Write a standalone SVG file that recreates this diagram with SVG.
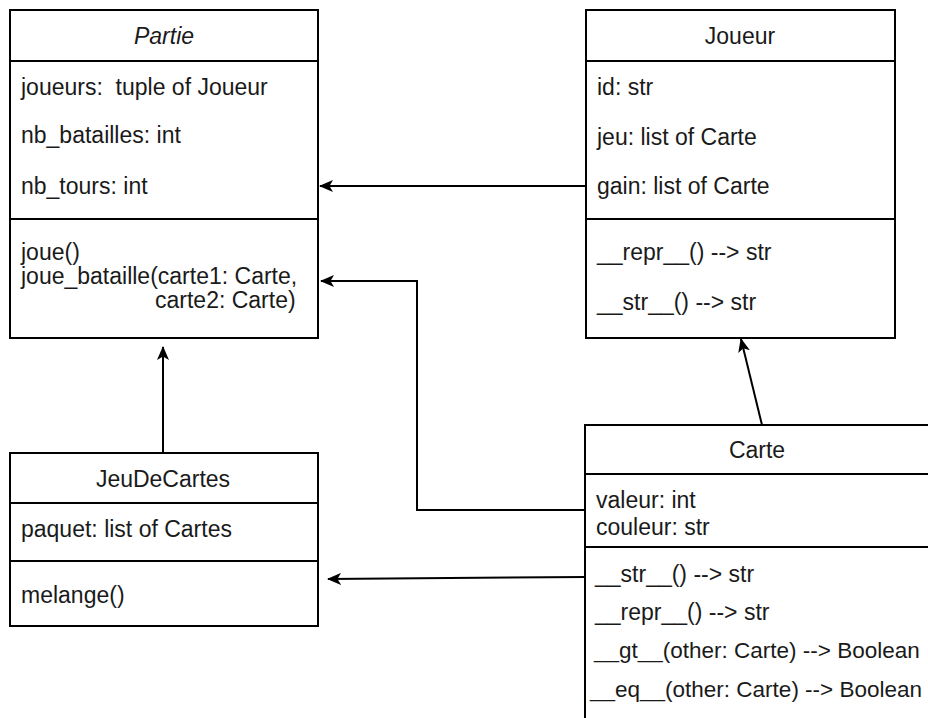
<svg xmlns="http://www.w3.org/2000/svg" width="928" height="718" viewBox="0 0 928 718">
<style>
.box{fill:#fff;stroke:#000;stroke-width:2}
.sep{stroke:#000;stroke-width:2}
.t{font-family:"Liberation Sans",Arial,sans-serif;font-size:23px;fill:#1a1a1a}
.s{font-size:22.5px}
.c{text-anchor:middle}
.conn{fill:none;stroke:#000;stroke-width:2}
</style>
<defs>
<marker id="arr" viewBox="0 0 14 12" refX="13" refY="6" markerWidth="14" markerHeight="12" markerUnits="userSpaceOnUse" orient="auto">
<path d="M0,0 L14,6 L0,12 L3.5,6 z" fill="#000"/>
</marker>
</defs>
<g id="connectors">
<path class="conn" d="M586,186 L320,186" marker-end="url(#arr)"/>
<path class="conn" d="M586,510 L417,510 L417,281 L321,281" marker-end="url(#arr)"/>
<path class="conn" d="M163,453 L163,347" marker-end="url(#arr)"/>
<path class="conn" d="M586,577 L328,579" marker-end="url(#arr)"/>
<path class="conn" d="M762,425 L741,339" marker-end="url(#arr)"/>
</g>
<g id="Partie">
<rect class="box" x="10" y="10" width="308" height="328"/>
<line class="sep" x1="10" y1="61" x2="318" y2="61"/>
<line class="sep" x1="10" y1="219" x2="318" y2="219"/>
<text class="t c" x="164" y="44" font-style="italic">Partie</text>
<text class="t" x="21" y="95" xml:space="preserve">joueurs:  tuple of Joueur</text>
<text class="t" x="21" y="143">nb_batailles: int</text>
<text class="t" x="21" y="194">nb_tours: int</text>
<text class="t" x="21" y="260">joue()</text>
<text class="t" x="21" y="284">joue_bataille(carte1: Carte,</text>
<text class="t" x="155" y="308">carte2: Carte)</text>
</g>
<g id="Joueur">
<rect class="box" x="586" y="10" width="309" height="328"/>
<line class="sep" x1="586" y1="61" x2="895" y2="61"/>
<line class="sep" x1="586" y1="219" x2="895" y2="219"/>
<text class="t c" x="740" y="44">Joueur</text>
<text class="t" x="597" y="95">id: str</text>
<text class="t" x="597" y="145">jeu: list of Carte</text>
<text class="t" x="597" y="194">gain: list of Carte</text>
<text class="t" x="597" y="260">__repr__() --&gt; str</text>
<text class="t" x="597" y="310">__str__() --&gt; str</text>
</g>
<g id="JeuDeCartes">
<rect class="box" x="10" y="453" width="308" height="173"/>
<line class="sep" x1="10" y1="503" x2="318" y2="503"/>
<line class="sep" x1="10" y1="561" x2="318" y2="561"/>
<text class="t c" x="163" y="487">JeuDeCartes</text>
<text class="t" x="21" y="537">paquet: list of Cartes</text>
<text class="t" x="21" y="603">melange()</text>
</g>
<g id="Carte">
<rect class="box" x="585" y="425" width="360" height="320"/>
<line class="sep" x1="585" y1="474" x2="945" y2="474"/>
<line class="sep" x1="585" y1="547" x2="945" y2="547"/>
<text class="t c" x="757" y="458">Carte</text>
<text class="t" x="596" y="508">valeur: int</text>
<text class="t" x="596" y="535">couleur: str</text>
<text class="t" x="595" y="582">__str__() --&gt; str</text>
<text class="t" x="595" y="620">__repr__() --&gt; str</text>
<text class="t s" x="594" y="658">__gt__(other: Carte) --&gt; Boolean</text>
<text class="t s" x="590" y="697">__eq__(other: Carte) --&gt; Boolean</text>
</g>
</svg>
